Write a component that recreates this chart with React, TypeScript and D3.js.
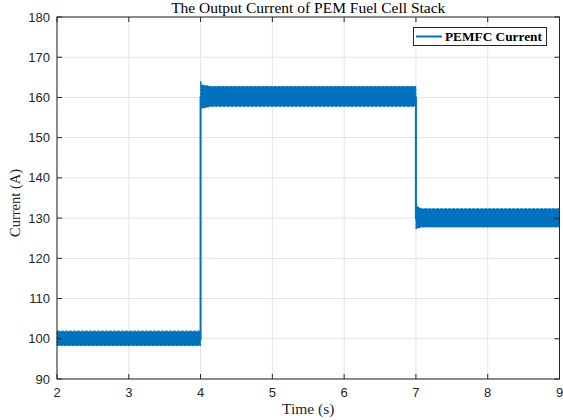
import React from "react";
import * as d3 from "d3";

// Envelope of the stack current ripple: time (s), upper and lower bounds (A), segment id
const envTime = [2.0, 4.0, 4.0, 4.015, 4.15, 7.0, 7.0, 7.02, 7.08, 9.0];
const envUpper = [101.9, 101.9, 164.0, 163.1, 162.7, 162.7, 133.9, 132.8, 132.3, 132.3];
const envLower = [98.3, 98.3, 157.0, 157.3, 157.8, 157.8, 127.3, 127.5, 127.8, 127.8];
const envSegment = [0, 0, 1, 1, 1, 1, 2, 2, 2, 2];

// Step transitions of the load demand
const stepTime = [2.0, 4.0, 4.0, 7.0, 7.0, 9.0];
const stepLevel = [100, 100, 160, 160, 130, 130];

const xTicks = [2, 3, 4, 5, 6, 7, 8, 9];
const yTicks = [90, 100, 110, 120, 130, 140, 150, 160, 170, 180];

const seriesName = "PEMFC Current";
const titleText = "The Output Current of PEM Fuel Cell Stack";
const xLabel = "Time (s)";
const yLabel = "Current (A)";

const W = 563;
const H = 420;
const left = 57;
const right = 559.5;
const top = 17;
const bottom = 379;

const blue = "#0072BD";
const axisColor = "#262626";
const gridColor = "#e3e3e3";

export default function App() {
  const x = d3.scaleLinear().domain([2, 9]).range([left, right]);
  const y = d3.scaleLinear().domain([90, 180]).range([bottom, top]);

  const segments = d3.groups(
    envTime.map((t, i) => ({ t, hi: envUpper[i], lo: envLower[i], s: envSegment[i] })),
    (d) => d.s
  );

  const area = d3
    .area<{ t: number; hi: number; lo: number }>()
    .x((d) => x(d.t))
    .y0((d) => y(d.lo))
    .y1((d) => y(d.hi));

  const step = d3
    .line<number>()
    .x((_, i) => x(stepTime[i]))
    .y((d) => y(d));

  const tickLen = 5;

  return (
    <svg
      width={W}
      height={H}
      style={{ position: "absolute", left: 0, top: 0, background: "#fff" }}
    >
      <rect x={0} y={0} width={W} height={H} fill="#fff" />
      {/* grid */}
      {xTicks.map((t) => (
        <line key={"gx" + t} x1={x(t)} x2={x(t)} y1={top} y2={bottom} stroke={gridColor} strokeWidth={1} />
      ))}
      {yTicks.map((t) => (
        <line key={"gy" + t} x1={left} x2={right} y1={y(t)} y2={y(t)} stroke={gridColor} strokeWidth={1} />
      ))}

      {/* current trace */}
      <path d={step(stepLevel) || ""} fill="none" stroke={blue} strokeWidth={2} />
      {segments.map(([s, pts]) => (
        <path
          key={"seg" + s}
          d={area(pts) || ""}
          fill={blue}
          stroke={blue}
          strokeWidth={1}
          strokeDasharray="3 1"
        />
      ))}

      {/* axes box */}
      <rect x={left} y={top} width={right - left} height={bottom - top} fill="none" stroke={axisColor} strokeWidth={1} />
      {xTicks.map((t) => (
        <g key={"tx" + t}>
          <line x1={x(t)} x2={x(t)} y1={bottom} y2={bottom - tickLen} stroke={axisColor} />
          <line x1={x(t)} x2={x(t)} y1={top} y2={top + tickLen} stroke={axisColor} />
          <text
            x={x(t)}
            y={397}
            textAnchor="middle"
            fontFamily="Liberation Sans, Arial, sans-serif"
            fontSize={13}
            fill={axisColor}
          >
            {t}
          </text>
        </g>
      ))}
      {yTicks.map((t) => (
        <g key={"ty" + t}>
          <line x1={left} x2={left + tickLen} y1={y(t)} y2={y(t)} stroke={axisColor} />
          <line x1={right} x2={right - tickLen} y1={y(t)} y2={y(t)} stroke={axisColor} />
          <text
            x={50}
            y={y(t) + 4.5}
            textAnchor="end"
            fontFamily="Liberation Sans, Arial, sans-serif"
            fontSize={13}
            fill={axisColor}
          >
            {t}
          </text>
        </g>
      ))}

      {/* title and axis labels */}
      <text
        x={(left + right) / 2}
        y={13}
        textAnchor="middle"
        fontFamily="Liberation Serif, Times New Roman, serif"
        fontSize={15.5}
        fill="#000"
      >
        {titleText}
      </text>
      <text
        x={(left + right) / 2}
        y={414}
        textAnchor="middle"
        fontFamily="Liberation Serif, Times New Roman, serif"
        fontSize={15.5}
        fill={axisColor}
      >
        {xLabel}
      </text>
      <text
        transform={`translate(20, ${(top + bottom) / 2 + 5}) rotate(-90)`}
        textAnchor="middle"
        fontFamily="Liberation Serif, Times New Roman, serif"
        fontSize={14.5}
        fill={axisColor}
      >
        {yLabel}
      </text>

      {/* legend */}
      <rect x={413.5} y={27.5} width={133} height={18} fill="#fff" stroke={axisColor} strokeWidth={1} />
      <line x1={416} x2={442} y1={36.5} y2={36.5} stroke={blue} strokeWidth={2} />
      <text
        x={445}
        y={41}
        fontFamily="Liberation Serif, Times New Roman, serif"
        fontWeight="bold"
        fontSize={13.3}
        fill="#000"
      >
        {seriesName}
      </text>
    </svg>
  );
}
